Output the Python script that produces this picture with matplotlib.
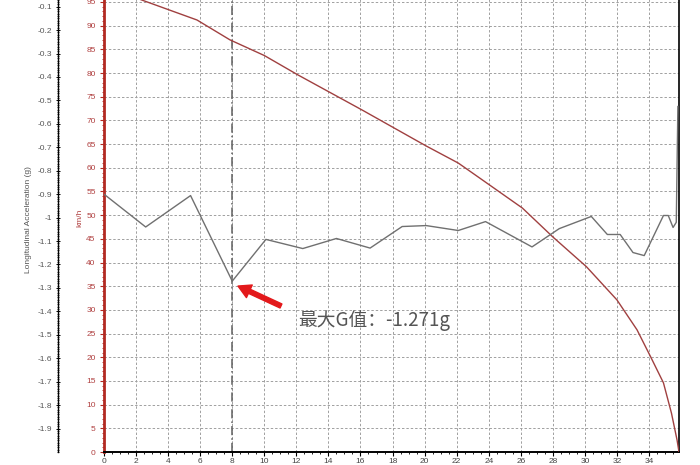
import matplotlib
matplotlib.use("Agg")
import matplotlib.pyplot as plt
from matplotlib.ticker import MultipleLocator, FixedLocator, FuncFormatter

# ---- data ----
time_acc = [0, 2.6, 5.4, 8.0, 10.1, 12.4, 14.5, 16.6, 18.6, 20.1, 22.1, 23.8,
            26.7, 28.4, 30.4, 31.4, 32.2, 33.0, 33.7, 34.9, 35.2, 35.5, 35.7, 35.8]
acc_g = [-0.90, -1.04, -0.906, -1.271, -1.093, -1.132, -1.089, -1.13, -1.038,
         -1.034, -1.055, -1.017, -1.125, -1.047, -0.995, -1.072, -1.072, -1.149,
         -1.162, -0.991, -0.991, -1.042, -1.02, -0.526]

time_speed = [0, 2.37, 5.8, 7.86, 10, 12.1, 16.1, 20.1, 22.1, 23.45, 26.1,
              28.0, 30.1, 32.0, 33.25, 34.1, 34.9, 35.4, 35.75, 35.87]
speed_kmh = [98.5, 95.4, 91.2, 87.0, 83.7, 79.6, 72.2, 64.6, 61.0, 57.8, 51.5,
             45.4, 39.1, 32.1, 25.8, 20.1, 14.6, 8.2, 2.5, 0.0]

x_ticks = list(range(0, 35, 2))
speed_ticks = list(range(0, 100, 5))
g_ticks = [-1.9, -1.8, -1.7, -1.6, -1.5, -1.4, -1.3, -1.2, -1.1, -1.0,
           -0.9, -0.8, -0.7, -0.6, -0.5, -0.4, -0.3, -0.2, -0.1]
cursor_x = 8.0
max_g = -1.271
annot_text = "最大G值：-1.271g"

# ---- figure ----
plt.rcParams['font.family'] = ['Liberation Sans', 'DejaVu Sans']
fig = plt.figure(figsize=(7.0, 4.65), dpi=100)
fig.patch.set_facecolor('white')

ax = fig.add_axes([104/700, 13/465, 575/700, 473.7/465])
ax.set_xlim(0, 35.87)
ax.set_ylim(0, 100)

red = '#b22a22'
ax.plot(time_speed, speed_kmh, color='#a04040', lw=1.0, zorder=3)

ax.grid(True, which='major', color='#a0a0a0', lw=0.7, ls=(0, (2.5, 2)))
ax.set_axisbelow(True)
ax.xaxis.set_major_locator(FixedLocator(x_ticks))
ax.xaxis.set_minor_locator(MultipleLocator(0.5))
ax.yaxis.set_major_locator(FixedLocator(speed_ticks))
ax.yaxis.set_minor_locator(MultipleLocator(1))

ax.tick_params(axis='x', which='major', direction='out', length=3, width=0.8,
               labelsize=6, labelcolor='#444444', pad=1.5)
ax.tick_params(axis='x', which='minor', direction='out', length=1.5, width=0.6)
ax.tick_params(axis='y', which='major', direction='out', length=3, width=0.8,
               color=red, labelsize=6, labelcolor='#b04040', pad=3)
ax.tick_params(axis='y', which='minor', direction='out', length=1.5, width=0.6,
               color=red)

ax.spines['left'].set_color(red)
ax.spines['left'].set_linewidth(2.0)
ax.spines['bottom'].set_linewidth(1.4)
ax.spines['bottom'].set_color('black')
ax.spines['right'].set_linewidth(1.2)
ax.spines['top'].set_visible(False)

ax.set_ylabel('km/h', color='#b04040', fontsize=6)
ax.yaxis.set_label_coords(-0.036, 0.494)

ax.axvline(cursor_x, color='#606060', lw=1.1, ls=(0, (6, 2, 1, 2)), zorder=2)

# acceleration axis
ax2 = ax.twinx()
ax2.set_ylim(-2.0, 0.021)
ax2.plot(time_acc, acc_g, color='#707070', lw=1.0, zorder=4)
ax2.yaxis.set_ticks_position('left')
ax2.yaxis.set_label_position('left')
ax2.spines['left'].set_position(('axes', (58 - 104) / 575))
ax2.spines['left'].set_visible(True)
ax2.spines['left'].set_color('black')
ax2.spines['left'].set_linewidth(1.0)
ax2.spines['right'].set_visible(False)
ax2.spines['top'].set_visible(False)
ax2.spines['bottom'].set_visible(False)
ax2.yaxis.set_major_locator(FixedLocator(g_ticks))
ax2.yaxis.set_major_formatter(FuncFormatter(lambda v, p: f"{v:g}"))
ax2.yaxis.set_minor_locator(MultipleLocator(0.01))
ax2.tick_params(axis='y', which='major', direction='inout', length=3, width=0.7,
                labelsize=6, labelcolor='#555555', pad=3)
ax2.tick_params(axis='y', which='minor', direction='inout', length=1.6, width=0.5)
ax2.set_ylabel('Longitudinal Acceleration (g)', color='#555555', fontsize=6)
ax2.yaxis.set_label_coords(-0.125, 0.49)

# annotation arrow + text
ax2.annotate('', xy=(8.36, -1.292), xytext=(11.04, -1.377),
             arrowprops=dict(color='#e3191b', width=3.2, headwidth=10,
                             headlength=9, shrink=0), zorder=6)
ax2.text(12.1, -1.437, annot_text, fontsize=13.5, color='#555555',
         va='center', ha='left',
         family=['Noto Sans CJK SC', 'DejaVu Sans'], zorder=6)

fig.savefig('out.png', dpi=100, facecolor='white')
